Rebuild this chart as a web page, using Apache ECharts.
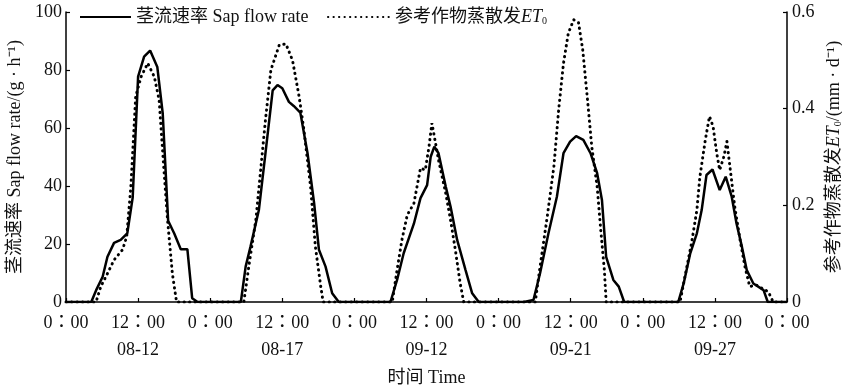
<!DOCTYPE html>
<html>
<head>
<meta charset="utf-8">
<script src="https://cdn.jsdelivr.net/npm/echarts@6/dist/echarts.min.js"></script>
<style>html,body{margin:0;padding:0;background:#fff}#c{width:842px;height:386px}</style>
</head>
<body>
<div id="c"></div>
<script>
// ---- data (hours from start of first plotted day; each day spans 24 h) ----
const dates = ['08-12', '08-17', '09-12', '09-21', '09-27'];
const sapHours = [0,4.2,5,6.1,6.9,8,9.1,10.2,11.1,12,13,14,15.2,16.1,17,18,19.1,20.2,21,21.9,
  24,29.1,29.9,30.7,32.1,33.2,34.4,35.2,36,37.1,37.9,39,40.2,41.3,42.1,43.2,44.3,45.4,
  48,54,55.1,56.2,57.9,59,60.1,60.7,61.3,62,63.2,64,65.1,66.5,67.6,68.7,
  72,76.2,77.8,78.9,80.3,81.7,82.8,83.9,84.9,86.1,87.3,88.4,89.2,89.9,91.1,92,92.9,
  96,101.9,102.8,103.9,105,105.8,106.6,107.6,108.8,109.8,110.8,111.6,112.5,113.3,114.4,116.1,116.8,120];
const sapRate = [0,0,4,8.7,15.6,20.4,21.4,23.7,36,77.7,84.6,86.7,81,65,28,23.7,18.2,18.2,1.3,0,
  0,0,12.2,19,31.7,51.3,73,74.8,73.7,69,67.6,65.3,51.3,34,18,12.2,3,0,
  0,0,7.6,16.8,27,35.8,40.3,50.1,53.6,51.3,39.8,32.9,21.4,11,3,0,
  0,0,0.7,9.9,23.7,36.3,51.3,55.3,57.2,55.9,51.3,44.4,35.2,15.6,7.6,5.3,0,
  0,0,6.4,16.8,23.7,31.7,43.8,45.7,38.6,43.2,36.3,27.1,19,11,6.4,4.1,0,0];
const etHours = [0,5,5.8,6.9,8,9.4,10.1,10.8,11.6,12.5,13.6,14.7,15.5,16.3,16.9,17.7,18.4,
  24,29.6,30.5,31.6,32.4,33.2,34.1,35.5,36.6,37.7,38.8,39.6,40.7,41.5,42.4,42.8,
  48,54.3,55.1,55.9,56.8,57.9,59,59.8,60.4,60.9,61.5,62,63.2,64,64.8,65.6,66.2,
  72,78.1,78.9,80.1,81.2,82,82.8,83.6,84.5,85.3,86,86.8,87.5,88.4,89,89.6,89.9,
  96,102.2,103,104.1,105,105.5,106.4,107.1,107.7,108.3,108.8,109.5,110,110.5,111.3,112.2,113,113.8,114.9,116.9,117.7,120];
const etValue = [0,0,0.032,0.059,0.087,0.108,0.135,0.239,0.425,0.466,0.494,0.466,0.418,0.273,0.17,0.059,0,
  0,0,0.08,0.17,0.273,0.377,0.48,0.532,0.534,0.5,0.425,0.356,0.239,0.115,0.032,0,
  0,0,0.066,0.128,0.18,0.204,0.277,0.273,0.32,0.37,0.329,0.294,0.225,0.17,0.108,0.039,0,
  0,0,0.073,0.177,0.28,0.398,0.494,0.556,0.584,0.578,0.522,0.418,0.322,0.239,0.149,0.066,0,
  0,0,0.052,0.121,0.19,0.259,0.335,0.384,0.363,0.308,0.273,0.301,0.332,0.28,0.197,0.128,0.073,0.032,0.035,0.021,0,0];
const leftTicks = [0, 20, 40, 60, 80, 100];
const rightTicks = [0, 0.2, 0.4, 0.6];

const SAP = '茎流速率 Sap flow rate';
const ET = '参考作物蒸散发ET0';
const FF = '"Liberation Serif", "Times New Roman", "Noto Sans CJK SC", serif';
const FF_TICK = '"Liberation Serif", "Noto Sans CJK TC", serif';
const FS = 18;

const zip = (a, b) => a.map((x, i) => [x, b[i]]);
const chart = echarts.init(document.getElementById('c'), null, {renderer: 'canvas'});
const axisCommon = {
  axisLine: {show: true, lineStyle: {color: '#000', width: 1.5}},
  axisTick: {show: true, inside: true, length: 4, lineStyle: {color: '#000', width: 1.2}},
  splitLine: {show: false},
  axisLabel: {color: '#111', fontSize: FS, fontFamily: FF},
  nameTextStyle: {color: '#111', fontSize: FS, fontFamily: FF}
};
const etRich = {
  i: {fontStyle: 'italic', fontSize: FS, fontFamily: FF, color: '#111'},
  s: {fontSize: 10, fontFamily: FF, color: '#111', verticalAlign: 'bottom', padding: [7, 0, 0, 0]}
};
chart.setOption({
  animation: false,
  backgroundColor: '#fff',
  grid: {left: 66, right: 55, top: 12, bottom: 84, containLabel: false, outerBoundsMode: 'none'},
  legend: [
    {data: [SAP], left: 79, top: 8, itemWidth: 51, itemHeight: 12, padding: 0,
     itemStyle: {opacity: 0},
     textStyle: {color: '#111', fontSize: FS, fontFamily: FF}},
    {data: [ET], left: 327, top: 8, itemWidth: 62, itemHeight: 12, padding: 0,
     itemStyle: {opacity: 0},
     formatter: () => '参考作物蒸散发{i|ET}{s|0}',
     textStyle: {color: '#111', fontSize: FS, fontFamily: FF, rich: etRich}}
  ],
  xAxis: Object.assign({}, axisCommon, {
    type: 'value', min: 0, max: 120, interval: 12,
    name: '时间 Time', nameLocation: 'middle', nameGap: 62,
    axisLabel: Object.assign({}, axisCommon.axisLabel, {
      margin: 8, lineHeight: 27, fontFamily: FF_TICK,
      formatter: v => (v % 24 === 0) ? '0：00' : '12：00\n' + dates[Math.floor(v / 24)]
    })
  }),
  yAxis: [
    Object.assign({}, axisCommon, {
      type: 'value', min: leftTicks[0], max: leftTicks[leftTicks.length - 1], interval: 20,
      position: 'left',
      name: '茎流速率 Sap flow rate/(g · h⁻¹)', nameLocation: 'middle', nameGap: 42, nameRotate: 90,
      axisLabel: Object.assign({}, axisCommon.axisLabel, {margin: 4})
    }),
    Object.assign({}, axisCommon, {
      type: 'value', min: rightTicks[0], max: rightTicks[rightTicks.length - 1], interval: 0.2,
      position: 'right',
      name: '参考作物蒸散发{i|ET}{s|0}/(mm · d⁻¹)', nameLocation: 'middle', nameGap: 33, nameRotate: 90,
      nameTextStyle: Object.assign({}, axisCommon.nameTextStyle, {rich: etRich}),
      axisLabel: Object.assign({}, axisCommon.axisLabel, {margin: 5, formatter: v => String(v)})
    })
  ],
  series: [
    {name: SAP, type: 'line', yAxisIndex: 0, data: zip(sapHours, sapRate), symbol: 'none',
     lineStyle: {color: '#000', width: 2.5}, itemStyle: {color: '#000'}, z: 3},
    {name: ET, type: 'line', yAxisIndex: 1, data: zip(etHours, etValue), symbol: 'none',
     lineStyle: {color: '#000', width: 3, type: [0.3, 5.2], cap: 'round'}, itemStyle: {color: '#000'}, z: 4}
  ]
});
</script>
</body>
</html>
